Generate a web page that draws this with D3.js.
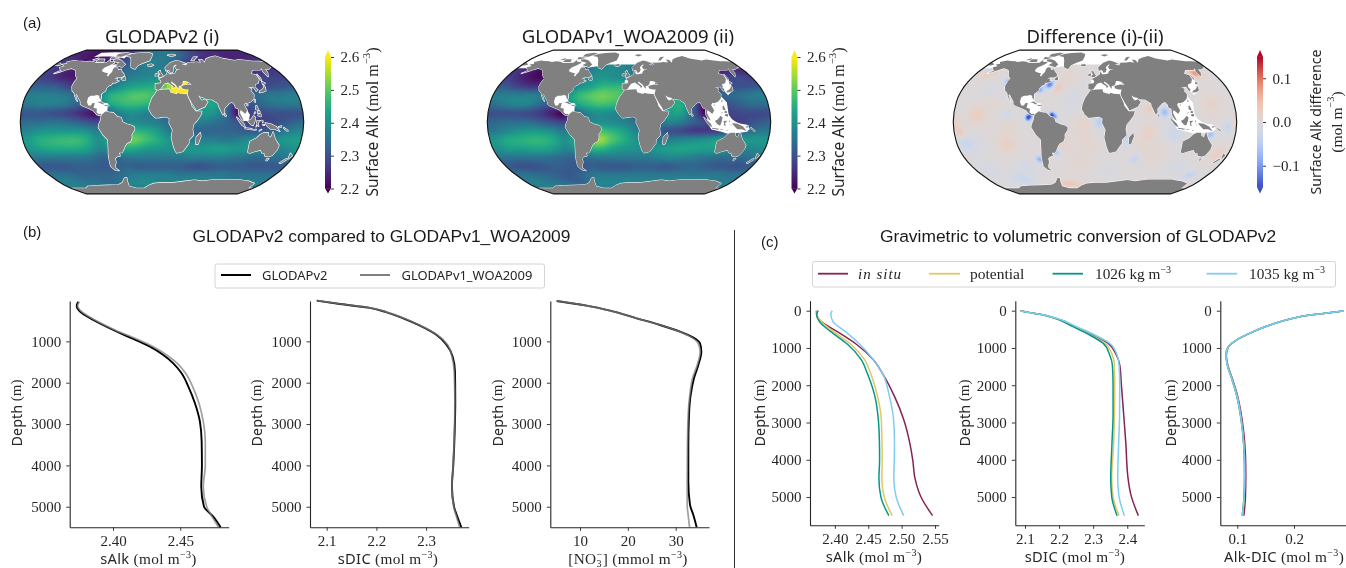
<!DOCTYPE html>
<html><head><meta charset="utf-8">
<script src="https://cdn.jsdelivr.net/npm/d3@7/dist/d3.min.js"></script>
<style>
html,body{margin:0;padding:0;background:#fff;overflow:hidden}
svg{display:block;filter:blur(0.4px)}
</style></head><body>
<svg id="chart" width="1346" height="568" viewBox="0 0 1346 568"></svg>
<script>
// ---------- map data (lon/lat) ----------
const gridLons = [-172.5,-157.5,-142.5,-127.5,-112.5,-97.5,-82.5,-67.5,-52.5,-37.5,-22.5,-7.5,7.5,22.5,37.5,52.5,67.5,82.5,97.5,112.5,127.5,142.5,157.5,172.5];
const gridLats = [80,70,60,50,40,30,20,10,0,-10,-20,-30,-40,-50,-60,-70,-80];
const alkGridV2 = [
[2.24,2.23,2.22,2.22,2.22,2.23,2.24,2.26,2.30,2.33,2.35,2.36,2.36,2.35,2.33,2.30,2.28,2.26,2.25,2.25,2.24,2.24,2.24,2.24],
[2.27,2.25,2.23,2.22,2.22,2.24,2.26,2.29,2.32,2.36,2.37,2.37,2.36,2.34,2.30,2.27,2.25,2.24,2.24,2.24,2.24,2.24,2.25,2.26],
[2.27,2.25,2.23,2.22,2.23,2.25,2.28,2.31,2.34,2.36,2.37,2.37,2.36,2.34,2.30,2.28,2.27,2.26,2.26,2.26,2.26,2.25,2.26,2.26],
[2.28,2.26,2.24,2.23,2.25,2.28,2.30,2.33,2.36,2.38,2.39,2.39,2.37,2.35,2.32,2.30,2.28,2.27,2.27,2.27,2.27,2.28,2.28,2.28],
[2.32,2.32,2.31,2.28,2.28,2.30,2.33,2.37,2.41,2.43,2.44,2.45,2.48,2.50,2.48,2.40,2.36,2.33,2.32,2.30,2.29,2.29,2.30,2.31],
[2.37,2.37,2.37,2.36,2.34,2.34,2.38,2.45,2.47,2.49,2.49,2.47,2.45,2.45,2.44,2.43,2.42,2.38,2.35,2.33,2.34,2.36,2.36,2.37],
[2.36,2.37,2.37,2.36,2.33,2.31,2.35,2.43,2.46,2.47,2.46,2.44,2.42,2.42,2.42,2.42,2.43,2.35,2.25,2.30,2.33,2.35,2.36,2.36],
[2.31,2.31,2.30,2.29,2.27,2.24,2.22,2.32,2.38,2.40,2.38,2.36,2.34,2.34,2.38,2.41,2.40,2.33,2.22,2.28,2.29,2.30,2.30,2.30],
[2.34,2.34,2.35,2.35,2.33,2.31,2.29,2.32,2.36,2.39,2.38,2.37,2.34,2.34,2.36,2.37,2.35,2.33,2.30,2.28,2.28,2.29,2.31,2.33],
[2.38,2.40,2.41,2.41,2.41,2.40,2.37,2.40,2.45,2.46,2.45,2.42,2.37,2.34,2.33,2.33,2.33,2.33,2.32,2.31,2.31,2.33,2.36,2.38],
[2.42,2.45,2.46,2.47,2.47,2.45,2.40,2.44,2.49,2.51,2.48,2.45,2.41,2.39,2.37,2.37,2.37,2.36,2.37,2.39,2.40,2.39,2.41,2.42],
[2.41,2.43,2.44,2.44,2.44,2.42,2.38,2.40,2.44,2.44,2.42,2.41,2.40,2.40,2.41,2.41,2.42,2.42,2.41,2.41,2.40,2.38,2.38,2.40],
[2.36,2.36,2.36,2.36,2.36,2.35,2.33,2.33,2.35,2.36,2.36,2.36,2.36,2.36,2.37,2.37,2.37,2.37,2.36,2.35,2.34,2.34,2.35,2.36],
[2.31,2.31,2.31,2.32,2.32,2.32,2.31,2.32,2.33,2.32,2.32,2.32,2.32,2.32,2.31,2.30,2.31,2.32,2.32,2.32,2.31,2.31,2.31,2.31],
[2.35,2.35,2.34,2.33,2.33,2.33,2.33,2.34,2.36,2.37,2.37,2.37,2.37,2.36,2.36,2.36,2.36,2.36,2.36,2.35,2.35,2.35,2.35,2.35],
[2.37,2.37,2.36,2.35,2.35,2.34,2.34,2.36,2.38,2.39,2.39,2.38,2.38,2.38,2.38,2.38,2.38,2.37,2.37,2.37,2.37,2.37,2.37,2.37],
[2.37,2.37,2.37,2.37,2.37,2.37,2.37,2.37,2.37,2.37,2.37,2.37,2.37,2.37,2.37,2.37,2.37,2.37,2.37,2.37,2.37,2.37,2.37,2.37]];
const alkGridV1 = [
[2.30,2.30,2.30,2.30,2.30,2.30,2.30,2.30,2.30,2.30,2.30,2.30,2.30,2.30,2.30,2.30,2.30,2.30,2.30,2.30,2.30,2.30,2.30,2.30],
[2.30,2.28,2.26,2.25,2.26,2.28,2.30,2.33,2.36,2.38,2.38,2.38,2.36,2.33,2.30,2.28,2.27,2.26,2.26,2.26,2.26,2.26,2.28,2.29],
[2.26,2.24,2.22,2.21,2.24,2.27,2.30,2.34,2.38,2.39,2.39,2.38,2.36,2.33,2.30,2.28,2.26,2.25,2.25,2.24,2.23,2.23,2.24,2.25],
[2.27,2.24,2.22,2.21,2.24,2.28,2.32,2.37,2.40,2.41,2.40,2.39,2.38,2.35,2.32,2.30,2.28,2.27,2.27,2.27,2.27,2.28,2.29,2.28],
[2.31,2.29,2.27,2.26,2.27,2.30,2.34,2.40,2.43,2.46,2.46,2.46,2.45,2.42,2.38,2.34,2.32,2.31,2.30,2.30,2.30,2.30,2.30,2.31],
[2.37,2.37,2.37,2.37,2.36,2.36,2.40,2.46,2.49,2.51,2.50,2.48,2.46,2.44,2.42,2.42,2.40,2.36,2.33,2.33,2.33,2.34,2.36,2.37],
[2.35,2.37,2.38,2.37,2.33,2.31,2.36,2.43,2.46,2.48,2.47,2.45,2.42,2.42,2.42,2.43,2.44,2.33,2.22,2.28,2.30,2.32,2.34,2.34],
[2.30,2.30,2.30,2.29,2.27,2.23,2.21,2.32,2.38,2.40,2.39,2.37,2.34,2.34,2.38,2.42,2.42,2.32,2.21,2.26,2.28,2.29,2.29,2.29],
[2.33,2.34,2.34,2.34,2.32,2.30,2.28,2.32,2.37,2.40,2.39,2.38,2.35,2.34,2.36,2.38,2.36,2.32,2.29,2.27,2.27,2.28,2.30,2.32],
[2.36,2.38,2.40,2.41,2.41,2.39,2.36,2.40,2.46,2.48,2.46,2.43,2.38,2.34,2.32,2.30,2.29,2.27,2.27,2.27,2.30,2.33,2.35,2.36],
[2.41,2.44,2.45,2.46,2.46,2.44,2.40,2.45,2.51,2.54,2.49,2.45,2.41,2.38,2.36,2.37,2.38,2.39,2.40,2.42,2.43,2.41,2.41,2.41],
[2.40,2.42,2.42,2.43,2.43,2.41,2.38,2.41,2.45,2.46,2.43,2.41,2.40,2.40,2.41,2.42,2.43,2.43,2.42,2.42,2.41,2.38,2.38,2.39],
[2.35,2.35,2.35,2.35,2.35,2.34,2.33,2.33,2.35,2.36,2.36,2.36,2.36,2.36,2.37,2.38,2.38,2.37,2.36,2.35,2.34,2.34,2.34,2.35],
[2.31,2.30,2.30,2.31,2.32,2.32,2.31,2.31,2.32,2.31,2.31,2.31,2.32,2.32,2.32,2.31,2.32,2.33,2.33,2.32,2.31,2.31,2.30,2.31],
[2.35,2.35,2.34,2.33,2.32,2.31,2.32,2.34,2.36,2.36,2.36,2.36,2.36,2.36,2.36,2.36,2.36,2.36,2.36,2.36,2.36,2.36,2.35,2.35],
[2.37,2.37,2.36,2.35,2.34,2.33,2.33,2.36,2.38,2.38,2.38,2.38,2.38,2.38,2.38,2.38,2.38,2.38,2.38,2.38,2.38,2.37,2.37,2.37],
[2.37,2.37,2.37,2.37,2.37,2.37,2.37,2.37,2.37,2.37,2.37,2.37,2.37,2.37,2.37,2.37,2.37,2.37,2.37,2.37,2.37,2.37,2.37,2.37]];
// difference patches: lon, lat, radius (deg), value
const diffPatches = [
[-85,5,4,-0.15],[-81,8,3,-0.08],[-55,8,3.5,-0.15],[-50,6,3,-0.08],[-63,42,4.5,-0.12],[-74,36,4,-0.08],[89,11,6,-0.07],[6,0,7,-0.05],[-77,-42,4,-0.08],
[-52,-34,4,-0.06],[-165,61,4,-0.05],[-124,46,4,-0.06],[152,55,5,0.08],[148,-14,5,-0.07],[103,-12,12,-0.026],[-50,-71,5,0.035],
[-30,-71,5,0.018],[-115,-25,10,0.026],[-150,8,11,0.026],[-172,-12,6,0.036],[-130,25,11,0.012],[70,-10,9,0.02],[165,-36,9,0.024],
[55,-42,5,-0.04],[150,-60,5,-0.04],[-160,-25,12,-0.016],[-140,35,9,-0.014],[-30,25,12,-0.014],[-15,-5,11,0.016],[-40,-25,9,0.014],
[40,-20,7,-0.03],[80,-35,13,0.01],[120,-50,9,-0.014],[-20,-45,11,0.012],[150,20,12,0.018],[170,-5,7,-0.035],[-110,-5,10,0.014],
[-100,-50,10,-0.016],[-120,-65,8,-0.03],[60,-20,10,0.012],[-40,50,10,0.01],[-50,38,6,0.03],[70,15,6,0.028],[-180,0,8,0.026],
[-112,7,6,-0.028],[-125,28,6,-0.016],[-170,-24,8,-0.022],[-160,55,7,0.026],[-10,-24,9,0.014],[-160,-55,10,-0.014],[20,-55,10,-0.01]];

// land outlines, lon/lat
const land = [
[[-168,66],[-162,67],[-166,69],[-157,71],[-150,70.5],[-141,70],[-135,69],[-128,70],[-120,69.5],[-115,68],[-108,68],[-100,68],[-96,68],[-94,72],[-90,69],[-85,69.5],[-82,68],[-87,65],[-93,62],[-94.5,59],[-92,57],[-85,55.5],[-82,55],[-82,52],[-79.5,51.5],[-79,54],[-77,56.5],[-78,60],[-77,62.5],[-72,62],[-69,59],[-65,60],[-62,57],[-58,54.5],[-56,52],[-60,50],[-66,50],[-69,48],[-65,49],[-65,46.5],[-61,46],[-66,44],[-70,44],[-70,42],[-74,40.5],[-76,38],[-76,35],[-81,31.5],[-80,27],[-80.5,25],[-82,27],[-83,29.5],[-86,30.3],[-90,29.5],[-94,29.5],[-97,27.5],[-97.5,22.5],[-95,18.5],[-91.5,18.5],[-90.5,21],[-87,21.3],[-88,16],[-83.5,15],[-83.5,11],[-81,9],[-78,9.3],[-77,8],[-80,7.5],[-83,8.3],[-86,11],[-88,13],[-92,14.5],[-96,16],[-102,18],[-105.5,20],[-106,23],[-110,27.5],[-113,31],[-114.5,30],[-110,23],[-112,25],[-115,29],[-117,32.5],[-121,35],[-124,40],[-124,46],[-123,49],[-128,52],[-131,55],[-135,58.5],[-140,60],[-146,61],[-152,59],[-158,56.5],[-164,54.7],[-158,58.5],[-162,60],[-166,62],[-161,64],[-168,66]],
[[-73,78],[-65,81],[-50,82.5],[-30,83.5],[-20,81],[-20,76],[-22,71],[-32,68],[-40,65],[-43,60],[-50,62],[-53,67],[-55,71],[-60,76],[-73,78]],
[[-80,73],[-72,71],[-62,66],[-65,62.5],[-72,64],[-78,65],[-73,68],[-85,70],[-88,73],[-80,73]],
[[-117,73],[-105,73],[-102,69],[-115,69],[-117,73]],
[[-90,77],[-78,76.5],[-65,81.5],[-75,83],[-90,81],[-90,77]],
[[-125,72],[-118,74.5],[-116,72.5],[-120,71.5],[-125,72]],
[[-96,76],[-80,75],[-90,73],[-95,73],[-96,76]],
[[-59,48],[-55,51.5],[-53,47],[-56,47],[-59,48]],
[[-77,8],[-72,12],[-68,11],[-62,10.5],[-57,6],[-52,5],[-50,0],[-44,-2.5],[-38,-4],[-35,-6],[-35,-9],[-39,-14],[-39,-18],[-41,-22],[-46,-24],[-48.5,-27],[-52,-32.5],[-54,-34.5],[-58,-34.5],[-57,-38],[-62,-39],[-65,-41],[-65,-45],[-68,-49],[-69,-52],[-65,-55],[-71,-54],[-75,-50],[-74,-44],[-73,-38],[-71,-30],[-70,-20],[-76,-14],[-81,-6],[-80,-2],[-78,2],[-77.5,6],[-77,8]],
[[-6,35.8],[3,36.5],[10,36.8],[11,33.5],[15,32.3],[20,31],[20,32.8],[25,31.7],[33.5,31.2],[34,28],[37,22],[38,18],[43,12],[51,12],[49,7],[44,1],[40,-3],[39,-8],[40.5,-15],[35,-20],[35,-24],[32.5,-27],[28,-33],[20,-34.8],[18,-33],[15,-27],[12,-17],[13.5,-9],[9,-1],[9.5,4],[5,6],[-3,5],[-8,4.5],[-13,8.5],[-17,14.5],[-16,20],[-13,27],[-9.5,31],[-6,35.8]],
[[-9,37],[-9.3,43],[-2,43.5],[-1,46],[-4.5,48.3],[2,51],[7,53.5],[8.5,57],[11,54],[14,54],[20,54.8],[21,57],[24,59],[30,60],[23,60],[21,63],[25,65.5],[22,65.5],[17.5,62],[18.5,59.5],[16.5,56.5],[13,55.5],[11,59],[6,58],[5,62],[14,68],[25,71],[31,70],[41,67],[33,66.5],[40,64.5],[44,68],[54,68.5],[60,69],[68,68.5],[67,72.5],[73,72],[74,68],[80,73],[90,75.5],[104,77.5],[113,74],[130,71],[140,72.5],[160,70],[170,70],[178,69.5],[-175,67.5],[-170,66],[-173,64.5],[179,65],[177,62.5],[170,60],[163,59.5],[162,56],[156.5,51],[156,57],[160,61],[155,59],[142,59],[135,54.5],[141,53],[140,48],[135,43.5],[130,42.5],[127.5,39.5],[129.5,36],[126.5,34.5],[126,37],[125,39.5],[121,39],[118,39],[122,37],[119.5,35],[122,31],[120,26],[115,22.5],[110,21],[108,21.5],[106,19],[109,13],[106,9],[105,10],[100.5,13.5],[99.5,10],[104,1.5],[101,3],[98,8],[98,15],[94.5,16],[94,19],[91,22.5],[87,21],[80,15],[80,11],[77.5,8],[73,18],[72.5,21],[68,23.5],[66,25],[57,25.5],[56,27],[51,28],[48,30],[50,26],[52,24],[56,25.5],[59.5,22.5],[55,17],[44,12.8],[42.5,16],[39,21],[35,28],[34,31.3],[36,36.5],[32,36.5],[27.5,37.5],[26.5,40],[29,41],[35,42],[41,41.5],[38,45],[33,46],[30,46],[28,42],[26,40.8],[23,40.5],[23,37],[20,40],[19.5,41.5],[13.5,45.5],[12.5,44],[18.5,40.2],[16,38],[15.5,40],[10.5,43],[8.5,44.3],[3,43],[0,39.5],[-2,37],[-5,36],[-9,37]],
[[-5,50],[1,51.3],[1,53],[-2,56],[-3,58.5],[-6,57],[-3,54],[-5,52],[-5,50]],
[[-10,52],[-6,52.3],[-6,55],[-10,54],[-10,52]],
[[-24,65.5],[-18,66.5],[-14,65],[-18,63.5],[-23,64],[-24,65.5]],
[[11,79],[20,80.3],[27,79],[18,77],[11,79]],
[[52,71],[57,71],[68,76.5],[60,76],[52,71]],
[[130,33],[135,33.5],[140,35],[141.5,39],[141,41],[139.5,39],[136,36.5],[132,35],[130,33]],
[[140,42],[145,43.5],[142,45.5],[140,42]],
[[142,46],[143.5,49],[143,54],[142,52],[142,46]],
[[120,23],[121,22],[122,25],[121,25],[120,23]],
[[108.7,19],[111,19.5],[110.5,18.2],[108.7,19]],
[[120,14],[124,13],[122,18.5],[120.5,18],[120,14]],
[[122,7],[126,6],[126,9],[123,9],[122,7]],
[[122,10],[125,10],[125,12.3],[122,12],[122,10]],
[[117.5,9],[119.5,10.5],[119,11.5],[117.5,9]],
[[109,1],[113,-3],[116,-4],[118,1],[119,5],[116.5,7],[113,3],[109,1]],
[[95,5.5],[104,-2],[106,-6],[102,-4],[97,2],[95,5.5]],
[[105.5,-6.5],[114.5,-7.5],[114,-8.7],[106,-7.5],[105.5,-6.5]],
[[119.5,-5.5],[121,-2],[120,1],[125,1.5],[122,-1],[123,-5],[120.5,-3],[119.5,-5.5]],
[[127,2],[128.5,1],[128,-1],[127,2]],
[[124,-9.5],[127,-8.3],[124,-10.3],[124,-9.5]],
[[116,-8.5],[120,-8.3],[120,-9],[116,-9],[116,-8.5]],
[[128,-3],[130.5,-3],[130,-3.7],[128,-3.5],[128,-3]],
[[148,-5.5],[152,-4.2],[152,-5.5],[149,-6.4],[148,-5.5]],
[[155,-6],[157,-7.5],[159,-8.5],[161,-10],[159,-10],[155,-7],[155,-6]],
[[131,-1],[138,-2],[145,-5],[148,-8],[150.5,-10.5],[144,-8],[138,-8],[133,-4],[131,-1]],
[[114,-22],[122,-18],[126,-14],[130,-12],[136,-12],[136,-15],[140,-17.5],[142,-11],[146,-19],[153,-26],[153,-31],[150,-37.5],[146,-39],[140,-38],[138,-35],[135,-35],[131,-31.5],[124,-33],[118,-35],[115,-34],[114,-26],[114,-22]],
[[145,-41],[148,-41],[147,-43.5],[146,-43.5],[145,-41]],
[[173,-35],[178,-38],[175,-41.5],[174,-39],[173,-35]],
[[172.5,-41],[174,-42],[170,-46.5],[167,-46],[171,-42],[172.5,-41]],
[[49,-12],[50,-16],[47,-25],[44,-25],[44,-17],[49,-12]],
[[80,9.5],[82,7],[80.5,6],[79.8,8],[80,9.5]],
[[-85,22],[-80,23],[-74,20],[-77,20],[-82,22],[-85,22]],
[[-74,19],[-69,19],[-68.5,18.3],[-74,18],[-74,19]],
[[-170,-78],[-150,-78],[-140,-75],[-120,-74],[-100,-73.5],[-80,-73],[-70,-70],[-62,-64],[-58,-63.5],[-60,-68],[-62,-75],[-50,-78],[-35,-78],[-25,-74],[-15,-71],[0,-70],[20,-70],[40,-68],[55,-66.5],[70,-68],[80,-67],[90,-66],[110,-66],[130,-66],[150,-68],[165,-71],[168,-76],[170,-78],[-170,-78]]
];
// no-data regions (white) and coloured marginal seas
const maskCommon = [
[[-95,66],[-75,66],[-75,51],[-95,51],[-95,66]],
[[-98,31],[-80,31],[-79,22],[-70,21],[-70,11],[-77,8.5],[-82,9.2],[-84,11],[-88,15],[-92,16],[-98,18.5],[-98,31]]];
const maskV2Only = [
[[99,13.5],[108,15],[112,8],[110,1],[103,1],[99,13.5]],
[[-130,76],[-130,83],[-70,83],[-70,74],[-130,76]]];
const maskV1Only = [
[[100,14],[110,23],[122,28],[127,22],[127,8],[131,3],[136,0],[142,-2],[150,-3],[154,-8],[150,-11],[142,-12],[135,-12.5],[125,-13],[118,-11],[105,-8.5],[100,-1],[99,8],[100,14]],
[[128,35],[130,43],[142,52],[142,43],[141,36],[131,30],[128,35]],
[[-6,30.5],[37,30.5],[37,47],[-6,47],[-6,30.5]],
[[10,53],[30,53],[30,66],[10,66],[10,53]],
[[48,24],[56,24],[56,31],[48,31],[48,24]],
[[33,12],[45,12],[45,30],[33,30],[33,12]]];
const arcticLimit = [[-180,61],[-165,61],[-150,60],[-140,63],[-125,64],[-110,64],[-95,64],[-80,64],[-65,62],[-50,64],[-35,66],[-20,66],[-5,66],[10,66],[25,68],[40,68],[55,68],[70,68],[85,68],[100,68],[115,68],[130,66],[145,61],[160,61],[175,61]];
const seaV2 = [
{value:2.50,ring:[[-6,34],[6,34],[6,45],[-6,45],[-6,34]]},
{value:2.54,ring:[[6,34],[12,34],[12,46],[6,46],[6,34]]},
{value:2.60,ring:[[12,30.5],[37,30.5],[37,47],[12,47],[12,30.5]]}];

// ---------- profile data ----------
const depthsB1 = [40,136,281,483,725,942,1128,1329,1531,1772,2095,2498,2941,3425,3997,4513,4996,5238,5496];
const sAlkV2 = [2.3742,2.3730,2.3755,2.3854,2.4002,2.4151,2.4275,2.4374,2.4448,2.4510,2.4560,2.4609,2.4646,2.4659,2.4661,2.4656,2.4676,2.4745,2.4800];
const sAlkV1 = [2.3750,2.3737,2.3767,2.3866,2.4015,2.4176,2.4300,2.4399,2.4478,2.4540,2.4592,2.4639,2.4671,2.4686,2.4686,2.4671,2.4696,2.4736,2.4785];
const depthsB2 = [15,96,185,298,443,620,846,1087,1370,1732,2457,3183,3989,4513,4996,5238,5496];
const sDicV2 = [2.0799,2.1268,2.1838,2.2207,2.2541,2.2877,2.3213,2.3414,2.3535,2.3581,2.3587,2.3575,2.3547,2.3520,2.3561,2.3628,2.3708];
const sDicV1 = [2.0810,2.1278,2.1850,2.2220,2.2555,2.2892,2.3230,2.3435,2.3520,2.3565,2.3578,2.3570,2.3545,2.3520,2.3555,2.3610,2.3675];
const depthsB3 = [23,136,257,443,604,765,910,1047,1249,1571,1893,2296,2780,3586,4392,4956,5198,5496];
const no3V2 = [5.12,11.39,16.27,21.84,26.72,30.90,33.69,35.08,35.36,34.73,33.82,33.13,32.78,32.64,32.64,32.99,33.69,34.38];
const no3V1 = [5.12,11.30,16.20,21.90,26.80,30.80,33.40,34.70,35.10,34.50,33.50,32.95,32.60,32.45,32.40,32.40,32.60,32.90];

const depthsC1 = [0,100,300,550,900,1300,1700,2300,2900,3500,4000,4500,5000,5500];
const cAlkInSitu = [2.3735,2.3727,2.3802,2.4025,2.4322,2.4570,2.4719,2.4893,2.5027,2.5116,2.5166,2.5200,2.5290,2.5463];
const cAlkPot = [2.3712,2.3727,2.3800,2.3970,2.4240,2.4440,2.4540,2.4640,2.4695,2.4705,2.4709,2.4704,2.4740,2.4858];
const cAlk1026 = [2.3752,2.3727,2.3770,2.3930,2.4190,2.4390,2.4490,2.4600,2.4650,2.4667,2.4670,2.4660,2.4690,2.4809];
const cAlk1035 = [2.3960,2.3940,2.3975,2.4149,2.4372,2.4570,2.4719,2.4818,2.4878,2.4893,2.4890,2.4883,2.4918,2.5032];
const depthsC2 = [0,52,97,160,245,428,652,875,1188,1457,1993,2798,3514,4498,4990,5499];
const cDicInSitu = [2.0874,2.1147,2.1440,2.1745,2.2040,2.2459,2.2997,2.3437,2.3681,2.3779,2.3828,2.3896,2.3955,2.4023,2.4121,2.4326];
const cDicPot = [2.0874,2.1147,2.1440,2.1733,2.2020,2.2430,2.2930,2.3339,2.3564,2.3623,2.3632,2.3623,2.3603,2.3544,2.3583,2.3760];
const cDic1026 = [2.0874,2.1147,2.1440,2.1733,2.2000,2.2411,2.2899,2.3290,2.3486,2.3564,2.3584,2.3584,2.3554,2.3515,2.3544,2.3701];
const cDic1035 = [2.0874,2.1147,2.1445,2.1760,2.2060,2.2508,2.3046,2.3486,2.3701,2.3760,2.3779,2.3775,2.3750,2.3720,2.3760,2.3916];
const depthsC3 = [0,44,115,222,383,562,786,965,1188,1457,1815,2262,2709,3246,3872,4408,5034,5499];
const cDiff1035 = [0.2870,0.2693,0.2282,0.1929,0.1576,0.1282,0.0988,0.0841,0.0800,0.0824,0.0900,0.0988,0.1047,0.1094,0.1123,0.1129,0.1118,0.1088];
const cDiffInSitu = [0.2870,0.2693,0.2282,0.1929,0.1578,0.1285,0.0992,0.0846,0.0806,0.0832,0.0910,0.1000,0.1062,0.1112,0.1143,0.1150,0.1142,0.1115];
const cDiffPot = [0.2870,0.2693,0.2282,0.1929,0.1576,0.1282,0.0988,0.0841,0.0800,0.0825,0.0902,0.0990,0.1049,0.1096,0.1125,0.1131,0.1120,0.1090];
const cDiff1026 = [0.2870,0.2693,0.2282,0.1929,0.1576,0.1282,0.0988,0.0841,0.0800,0.0824,0.0899,0.0986,0.1045,0.1092,0.1121,0.1127,0.1116,0.1086];

const alkTicks = [2.2,2.3,2.4,2.5,2.6];
const diffTicks = [-0.1,0,0.1];
const depthTicksB = [1000,2000,3000,4000,5000];
const depthTicksC = [0,1000,2000,3000,4000,5000];

// ---------- fonts / styles ----------
const SERIF = '"Liberation Serif",serif', SANS = '"Noto Sans",sans-serif', HELV='"Liberation Sans",sans-serif';
const INK = '#262626', LAND='#808080';
const svg = d3.select('#chart');
const defs = svg.append('defs');

function rich(sel, parts, size){
  let shift = 0;
  parts.forEach(([t,kind,dx])=>{
    const ts = sel.append('tspan').text(t);
    let target = 0, fs = size, fam = SERIF;
    if(kind==='sans') { fam = SANS; fs = size*0.96; }
    if(kind==='ital') ts.attr('font-style','italic').attr('letter-spacing',1);
    if(kind==='sup'){ target = -0.36*size; fs = size*0.66; }
    if(kind==='sub'){ target = 0.2*size; fs = size*0.66; }
    ts.attr('font-family',fam).attr('font-size',fs).attr('dy',target-shift);
    if(dx) ts.attr('dx',dx);
    shift = target;
  });
  return sel;
}
const MOL = [['(mol m','cm'],['−3','sup'],[')','cm']];

// ---------- Robinson via d3.geoProjection ----------
const K = [[0.9986,-0.062],[1,0],[0.9986,0.062],[0.9954,0.124],[0.99,0.186],[0.9822,0.248],[0.973,0.31],[0.96,0.372],[0.9427,0.434],[0.9216,0.4958],[0.8962,0.5571],[0.8679,0.6176],[0.835,0.6769],[0.7986,0.7346],[0.7597,0.7903],[0.7186,0.8435],[0.6732,0.8936],[0.6213,0.9394],[0.5722,0.9761],[0.5322,1]].map(d=>[d[0],d[1]*1.0144]);
function robinsonRaw(l,p){
  const i=Math.min(18,Math.abs(p)*36/Math.PI), i0=Math.floor(i), di=i-i0;
  const a=K[i0], b=K[i0+1], c=K[Math.min(19,i0+2)];
  return [l*(b[0]+di*(c[0]-a[0])/2+di*di*(c[0]-2*b[0]+a[0])/2),
          (p>0?1:-1)*Math.PI/2*(b[1]+di*(c[1]-a[1])/2+di*di*(c[1]-2*b[1]+a[1])/2)];
}
robinsonRaw.invert=function(x,y){
  let lo=0, hi=Math.PI/2, ay=Math.abs(y);
  for(let n=0;n<26;n++){const m=(lo+hi)/2; if(robinsonRaw(1,m)[1]<ay) lo=m; else hi=m;}
  const p=(lo+hi)/2;
  return [x/robinsonRaw(1,p)[0], y<0?-p:p];
};

const viridis = d3.scaleSequential(d3.interpolateViridis).domain([2.2,2.6]).clamp(true);
const coolwarm = d3.scaleSequential(d3.interpolateRgbBasis(['#3b4cc0','#7b9ff9','#c0d4f5','#dddddd','#f5c4ac','#e8785d','#b40426'])).domain([-0.15,0.15]).clamp(true);

function cubic(a,b,c,d,t){return b+0.5*t*(c-a+t*(2*a-5*b+4*c-d+t*(3*(b-c)+d-a)));}
function gridValue(grid,lon,lat){
  const nx=gridLons.length, ny=gridLats.length;
  const fx=(lon-gridLons[0])/15, ix=Math.floor(fx), tx=fx-ix;
  let fy=(gridLats[0]-lat)/10; fy=Math.max(0,Math.min(ny-1.001,fy));
  const iy=Math.floor(fy), ty=fy-iy;
  const row=j=>{const r=grid[Math.max(0,Math.min(ny-1,j))], at=k=>r[((k%nx)+nx)%nx];
    return cubic(at(ix-1),at(ix),at(ix+1),at(ix+2),tx);};
  return cubic(row(iy-1),row(iy),row(iy+1),row(iy+2),ty);
}
function diffValue(lon,lat){
  let v=0;
  for(const [a,b,r,amp] of diffPatches){
    let dl=lon-a; if(dl>180)dl-=360; if(dl<-180)dl+=360;
    dl*=Math.cos(lat*Math.PI/180);
    const dp=lat-b, q=(dl*dl+dp*dp)/(r*r);
    if(q<9) v+=amp*Math.exp(-q);
  }
  return v;
}
function poly(ring){
  const f={type:'Polygon',coordinates:[ring]};
  if(d3.geoArea(f)>2*Math.PI) f.coordinates=[ring.slice().reverse()];
  return f;
}
const landFeatures = land.map(poly);
const arcticRing = arcticLimit.concat([arcticLimit[0]]);

const MAP_W=283.5, MAP_CY=122;
function drawMap(id,cx,valueAt,colour,masks,seas,withArctic,coastW){
  const proj=d3.geoProjection(robinsonRaw).scale(MAP_W/(2*Math.PI)).translate([cx,MAP_CY]).precision(0.3);
  const path=d3.geoPath(proj);
  const g=svg.append('g').attr('class','map '+id);
  defs.append('clipPath').attr('id','clip-'+id).append('path').attr('d',path({type:'Sphere'}));
  const x0=Math.floor(cx-MAP_W/2)-1,y0=MAP_CY-74,w=Math.ceil(MAP_W)+3,h=148;
  const cv=document.createElement('canvas'); cv.width=w; cv.height=h;
  const ctx=cv.getContext('2d'), im=ctx.createImageData(w,h);
  for(let y=0;y<h;y++)for(let x=0;x<w;x++){
    const ll=proj.invert([x0+x+0.5,y0+y+0.5]);
    if(Math.abs(ll[0])>180.5||Math.abs(ll[1])>90) continue;
    const c=d3.rgb(colour(valueAt(Math.max(-180,Math.min(180,ll[0])),ll[1])));
    const i=4*(y*w+x); im.data[i]=c.r;im.data[i+1]=c.g;im.data[i+2]=c.b;im.data[i+3]=255;
  }
  ctx.putImageData(im,0,0);
  const clipped=g.append('g').attr('clip-path',`url(#clip-${id})`);
  clipped.append('image').attr('x',x0).attr('y',y0).attr('width',w).attr('height',h).attr('href',cv.toDataURL());
  clipped.selectAll('path.mask').data(masks.map(poly)).join('path').attr('class','mask').attr('d',path).attr('fill','#fff');
  if(withArctic) clipped.append('path').attr('class','mask').attr('d',path(poly(arcticRing))).attr('fill','#fff');
  clipped.selectAll('path.sea').data(seas).join('path').attr('class','sea').attr('d',d=>path(poly(d.ring))).attr('fill',d=>colour(d.value));
  clipped.selectAll('path.land').data(landFeatures).join('path').attr('class','land').attr('d',path)
    .attr('fill',LAND).attr('stroke','#fff').attr('stroke-width',coastW).attr('paint-order','stroke').attr('stroke-linejoin','round');
  g.append('path').attr('d',path({type:'Sphere'})).attr('fill','none').attr('stroke','#111').attr('stroke-width',1.1);
}
drawMap('m1',162,(a,b)=>gridValue(alkGridV2,a,b),viridis,maskCommon.concat(maskV2Only),seaV2,false,1.2);
drawMap('m2',629,(a,b)=>gridValue(alkGridV1,a,b),viridis,maskCommon.concat(maskV1Only),[],true,1);
drawMap('m3',1095,diffValue,coolwarm,maskCommon.concat(maskV1Only),[],true,1);

function titleAt(x,t){svg.append('text').attr('x',x).attr('y',43).attr('text-anchor','middle').attr('font-family',SANS).attr('font-size',18.5).attr('fill','#1a1a1a').text(t);}
titleAt(162,'GLODAPv2 (i)');
titleAt(628,'GLODAPv1_WOA2009 (ii)');
titleAt(1095,'Difference (i)-(ii)');

// ---------- colour bars ----------
function colourbar(id,x,domain,yTop,yBot,colour,ticks,fmt){
  const y=d3.scaleLinear().domain(domain).range([yBot,yTop]);
  const W=6, g=svg.append('g').attr('class','cbar '+id);
  const grad=defs.append('linearGradient').attr('id','grad-'+id).attr('x1',0).attr('x2',0).attr('y1',1).attr('y2',0);
  d3.range(0,1.0001,0.05).forEach(t=>grad.append('stop').attr('offset',t).attr('stop-color',colour(domain[0]+t*(domain[1]-domain[0]))));
  g.append('rect').attr('x',x).attr('y',yTop).attr('width',W).attr('height',yBot-yTop).attr('fill',`url(#grad-${id})`);
  g.append('path').attr('d',d3.line()([[x,yTop+0.3],[x+W/2,50],[x+W,yTop+0.3]])).attr('fill',colour(domain[1]));
  g.append('path').attr('d',d3.line()([[x,yBot-0.3],[x+W/2,193.5],[x+W,yBot-0.3]])).attr('fill',colour(domain[0]));
  const ax=g.append('g').attr('transform',`translate(${x+W},0)`).call(d3.axisRight(y).tickValues(ticks).tickFormat(fmt).tickSize(3).tickPadding(6.5));
  ax.select('.domain').remove();
  ax.selectAll('line').attr('stroke',INK).attr('stroke-width',0.9);
  ax.selectAll('text').attr('font-family',SERIF).attr('font-size',15).attr('fill',INK);
}
colourbar('a1',325,[2.2,2.6],57,188.5,viridis,alkTicks,d3.format('.1f'));
colourbar('a2',791.5,[2.2,2.6],57,188.5,viridis,alkTicks,d3.format('.1f'));
colourbar('a3',1257,[-0.15,0.15],56.4,187.6,coolwarm,diffTicks,d=>d<0?'−'+Math.abs(d).toFixed(1):d.toFixed(1));

function vLabel(x,y,parts,size){
  const t=svg.append('text').attr('transform',`translate(${x},${y}) rotate(-90)`).attr('text-anchor','middle').attr('dominant-baseline','middle').attr('fill',INK);
  rich(t,parts,size); return t;
}
vLabel(374,122,[['Surface Alk ','sans']].concat(MOL),16.2);
vLabel(840,122,[['Surface Alk ','sans']].concat(MOL),16.2);
vLabel(1317,122,[['Surface Alk difference','sans']],14.8);
vLabel(1338,122,MOL,15.5);

// ---------- panel labels, headers, divider ----------
function plain(x,y,t,size,font,anchor){return svg.append('text').attr('x',x).attr('y',y).attr('font-family',font).attr('font-size',size).attr('text-anchor',anchor||'start').attr('fill','#1a1a1a').text(t);}
plain(23,28,'(a)',15,HELV);
plain(23,237,'(b)',15,HELV);
plain(761,247,'(c)',15,HELV);
plain(381.5,242,'GLODAPv2 compared to GLODAPv1_WOA2009',17.4,HELV,'middle');
plain(1078,242,'Gravimetric to volumetric conversion of GLODAPv2',17.4,HELV,'middle');
svg.append('line').attr('x1',734.5).attr('x2',734.5).attr('y1',230).attr('y2',568).attr('stroke','#333').attr('stroke-width',1);

// ---------- legends ----------
function legendBox(x0,x1,y0,y1){svg.append('rect').attr('x',x0).attr('y',y0).attr('width',x1-x0).attr('height',y1-y0).attr('rx',2).attr('fill','#fff').attr('stroke','#d4d4d4').attr('stroke-width',1);}
function legendLine(x0,x1,y,c,w){svg.append('line').attr('x1',x0).attr('x2',x1).attr('y1',y).attr('y2',y).attr('stroke',c).attr('stroke-width',w);}
function legendText(x,y,parts,size){const t=svg.append('text').attr('x',x).attr('y',y).attr('fill',INK);rich(t,parts,size);}
const COL = {insitu:'#882255',pot:'#e3c666',d1026:'#009988',d1035:'#7fcdf0',v2:'#000000',v1:'#808080'};
legendBox(215,544.5,264,288);
legendLine(221,251,275,COL.v2,2);
legendText(262,280,[['GLODAPv2','sans']],13.5);
legendLine(360,390,275,COL.v1,2);
legendText(401.5,280,[['GLODAPv1_WOA2009','sans']],13.5);
legendBox(812.5,1335.5,261.5,287);
legendLine(818,848,273.7,COL.insitu,1.8);
legendText(858,279,[['in situ','ital']],15);
legendLine(929,960,273.7,COL.pot,1.8);
legendText(970,279,[['potential','cm']],15.5);
legendLine(1052.5,1083,273.7,COL.d1026,1.8);
legendText(1095,279,[['1026 kg m','cm'],['−3','sup']],15.3);
legendLine(1206.5,1237,273.7,COL.d1035,1.8);
legendText(1249,279,[['1035 kg m','cm'],['−3','sup']],15.3);

// ---------- profile axes ----------
function profile(cfg){
  const x=d3.scaleLinear().domain(cfg.xDomain).range([cfg.left,cfg.right]);
  const y=d3.scaleLinear().domain(cfg.yDomain).range([cfg.top,cfg.bottom]);
  const g=svg.append('g').attr('class','profile '+cfg.id);
  const line=d3.line().x(d=>x(d[0])).y(d=>y(d[1])).curve(d3.curveMonotoneY);
  cfg.series.forEach(s=>{
    g.append('path').datum(s.values.map((v,i)=>[v,cfg.depths[i]])).attr('d',line).attr('fill','none')
      .attr('stroke',s.colour).attr('stroke-width',s.width).attr('stroke-opacity',s.opacity||1).attr('stroke-linejoin','round');
  });
  const ax=g.append('g').attr('transform',`translate(0,${cfg.bottom})`).call(d3.axisBottom(x).tickValues(cfg.xTicks).tickFormat(d3.format(cfg.xFmt)).tickSize(3.5).tickSizeOuter(0).tickPadding(4.5));
  const ay=g.append('g').attr('transform',`translate(${cfg.left},0)`).call(d3.axisLeft(y).tickValues(cfg.yTicks).tickSize(3.5).tickSizeOuter(0).tickPadding(5).tickFormat(d3.format('d')));
  [ax,ay].forEach(a=>{
    a.select('.domain').attr('stroke',INK).attr('stroke-width',1.1);
    a.selectAll('line').attr('stroke',INK).attr('stroke-width',0.9);
    a.selectAll('text').attr('font-family',SERIF).attr('font-size',15).attr('fill',INK);
  });
  svg.append('text').attr('x',cfg.xLabelX).attr('y',cfg.xLabelY).attr('text-anchor','middle').attr('fill',INK).attr('letter-spacing',0.3).call(t=>rich(t,cfg.xLabel,15.3));
  vLabel(cfg.yLabelX,413,[['Depth ','sans'],['(m)','cm']],15);
}
const bSeries=(a,b)=>[{values:a,colour:COL.v2,width:1.9},{values:b,colour:COL.v1,width:1.7,opacity:0.75}];
const bBase={top:301,bottom:527.3,yDomain:[24,5497],yTicks:depthTicksB,xLabelY:564};
profile({...bBase,id:'b1',left:69.7,right:228.7,xDomain:[2.3678,2.486],xTicks:[2.40,2.45],xFmt:'.2f',depths:depthsB1,series:bSeries(sAlkV2,sAlkV1),xLabelX:148.5,yLabelX:18,xLabel:[['sAlk ','sans']].concat(MOL)});
profile({...bBase,id:'b2',left:310,right:468.7,xDomain:[2.0664,2.3857],xTicks:[2.1,2.2,2.3],xFmt:'.1f',depths:depthsB2,series:bSeries(sDicV2,sDicV1),xLabelX:388,yLabelX:257.5,xLabel:[['sDIC ','sans']].concat(MOL)});
profile({...bBase,id:'b3',left:550.3,right:709,xDomain:[3.79,36.96],xTicks:[10,20,30],xFmt:'d',depths:depthsB3,series:bSeries(no3V2,no3V1),xLabelX:628,yLabelX:498.5,xLabel:[['[NO','cm'],['3','sub'],['−','sup',-5],['] (mmol m','cm'],['−3','sup'],[')','cm']]});
const cSeries=(a,b,c,d)=>[{values:a,colour:COL.insitu,width:1.5},{values:b,colour:COL.pot,width:1.5},{values:c,colour:COL.d1026,width:1.5},{values:d,colour:COL.d1035,width:1.5}];
const cBase={top:300.7,bottom:525.3,yDomain:[-268,5758],yTicks:depthTicksC,xLabelY:561.5};
profile({...cBase,id:'c1',left:810,right:938.7,xDomain:[2.3628,2.5555],xTicks:[2.40,2.45,2.50,2.55],xFmt:'.2f',depths:depthsC1,series:cSeries(cAlkInSitu,cAlkPot,cAlk1026,cAlk1035),xLabelX:874,yLabelX:760.5,xLabel:[['sAlk ','sans']].concat(MOL)});
profile({...cBase,id:'c2',left:1015.3,right:1144.3,xDomain:[2.0716,2.45],xTicks:[2.1,2.2,2.3,2.4],xFmt:'.1f',depths:depthsC2,series:cSeries(cDicInSitu,cDicPot,cDic1026,cDic1035),xLabelX:1075,yLabelX:966,xLabel:[['sDIC ','sans']].concat(MOL)});
profile({...cBase,id:'c3',left:1220.3,right:1346,xDomain:[0.07,0.2917],xTicks:[0.1,0.2],xFmt:'.1f',depths:depthsC3,series:cSeries(cDiffInSitu,cDiffPot,cDiff1026,cDiff1035),xLabelX:1284,yLabelX:1171.5,xLabel:[['Alk-DIC ','sans']].concat(MOL)});
</script>
</body></html>
